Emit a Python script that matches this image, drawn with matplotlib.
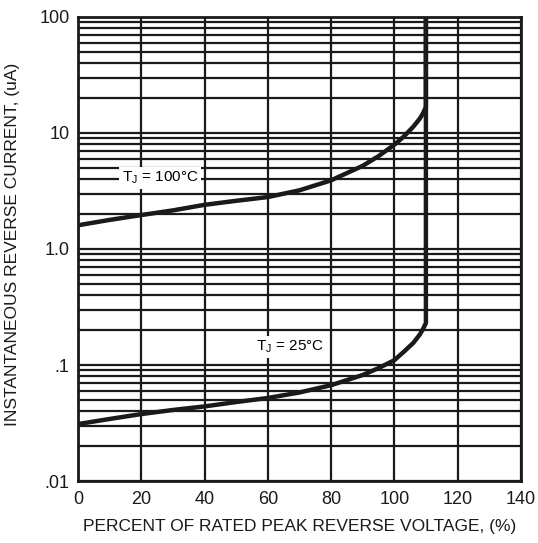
import matplotlib.pyplot as plt
import numpy as np

# percent of rated peak reverse voltage
x_100 = [0, 10, 20, 30, 40, 50, 60, 70, 80, 90, 95, 100, 103, 106, 108, 109, 110, 110]
i_100 = [1.6, 1.78, 1.96, 2.15, 2.4, 2.6, 2.8, 3.2, 3.9, 5.2, 6.3, 7.9, 9.3, 11.3, 13.2, 14.6, 16.7, 100]

x_25 = [0, 10, 20, 30, 40, 50, 60, 70, 80, 90, 95, 100, 103, 106, 108, 109, 110, 110]
i_25 = [0.031, 0.0343, 0.0378, 0.041, 0.044, 0.048, 0.052, 0.058, 0.067, 0.082, 0.094, 0.11, 0.13, 0.155, 0.182, 0.202, 0.23, 100]

x_ticks = [0, 20, 40, 60, 80, 100, 120, 140]
y_ticks = [0.01, 0.1, 1, 10, 100]
y_labels = ['.01', '.1', '1.0', '10', '100']

plt.rcParams['font.family'] = ['Liberation Sans', 'DejaVu Sans']

fig = plt.figure(figsize=(5.38, 5.43), dpi=100)
ax = fig.add_axes([0.145, 0.114, 0.823, 0.855])

ax.set_yscale('log')
ax.set_xlim(0, 140)
ax.set_ylim(0.01, 100)

# grid: vertical every 20, horizontal on every 1..9 of each decade
for xv in x_ticks:
    ax.axvline(xv, color='#1a1a1a', lw=1.6, zorder=1)
for d in [0.01, 0.1, 1, 10]:
    for m in range(1, 10):
        ax.axhline(d * m, color='#1a1a1a', lw=1.6, zorder=1)

ax.plot(x_100, i_100, color='#1a1a1a', lw=3.2, solid_capstyle='butt', solid_joinstyle='round', zorder=3)
ax.plot(x_25, i_25, color='#1a1a1a', lw=3.2, solid_capstyle='butt', solid_joinstyle='round', zorder=3)

ax.text(26, 4.1, r'T$_\mathregular{J}$ = 100°C', fontsize=11, ha='center', va='center',
        bbox=dict(facecolor='white', edgecolor='none', pad=2), zorder=4)
ax.text(67, 0.143, r'T$_\mathregular{J}$ = 25°C', fontsize=11, ha='center', va='center',
        bbox=dict(facecolor='white', edgecolor='none', pad=2), zorder=4)

ax.set_xticks(x_ticks)
ax.set_xticklabels([str(v) for v in x_ticks])
ax.set_yticks(y_ticks)
ax.set_yticklabels(y_labels)
ax.yaxis.set_minor_locator(plt.NullLocator())
ax.tick_params(axis='both', length=0, labelsize=13, colors='#1a1a1a')
ax.tick_params(axis='x', pad=7)
ax.tick_params(axis='y', pad=6)

for s in ax.spines.values():
    s.set_linewidth(2)
    s.set_color('#1a1a1a')
    s.set_zorder(5)

ax.set_xlabel('PERCENT OF RATED PEAK REVERSE VOLTAGE, (%)', fontsize=12.5, color='#1a1a1a', labelpad=8)
ax.set_ylabel('INSTANTANEOUS REVERSE CURRENT, (uA)', fontsize=12.5, color='#1a1a1a')
ax.yaxis.set_label_coords(-0.131, 0.51)

fig.savefig('out.png', dpi=100)
